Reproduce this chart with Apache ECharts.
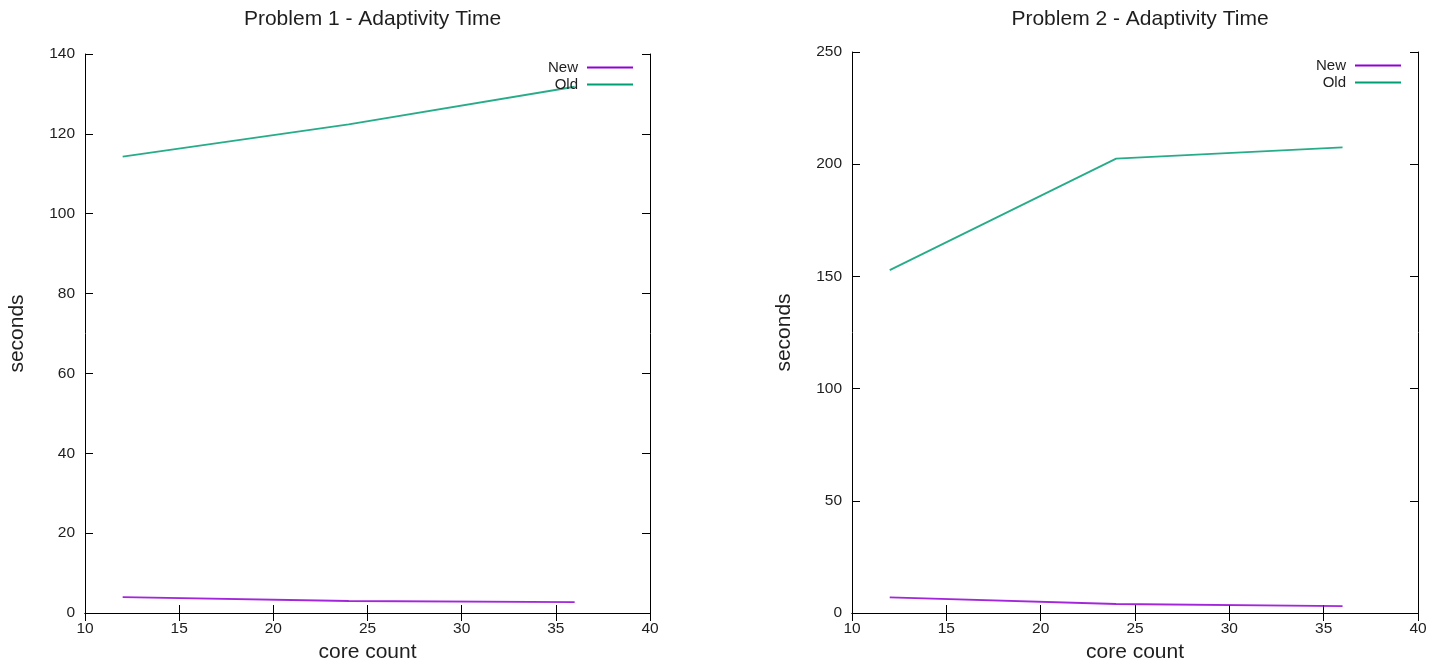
<!DOCTYPE html>
<html>
<head>
<meta charset="utf-8">
<script src="https://cdn.jsdelivr.net/npm/echarts@6/dist/echarts.min.js"></script>
<style>
html,body{margin:0;padding:0;background:#fff;}
#c{width:1443px;height:662px;}
</style>
</head>
<body>
<div id="c"></div>
<script>
const coreCounts = [12, 24, 36];
const p1New = [4.0, 3.0, 2.7];
const p1Old = [114.3, 122.4, 131.8];
const p2New = [7.0, 4.0, 3.1];
const p2Old = [152.8, 202.5, 207.5];
const titles = ['Problem 1 - Adaptivity Time', 'Problem 2 - Adaptivity Time'];
const seriesNames = ['New', 'Old'];
const colors = ['#9400d3', '#009e73'];
const xTicks = {min: 10, max: 40, interval: 5};
const yTicks = [{min: 0, max: 140, interval: 20}, {min: 0, max: 250, interval: 50}];

const FONT = 'Liberation Sans, Arial, sans-serif';
const TXT = '#1e1e1e';
const grids = [
  {left: 85, top: 54, width: 565, height: 559, outerBoundsMode: 'none', containLabel: false},
  {left: 852, top: 52, width: 566, height: 561, outerBoundsMode: 'none', containLabel: false}
];

function pairs(xs, ys) { return xs.map((x, i) => [x, ys[i]]); }

const axisLine = {show: true, lineStyle: {color: '#000', width: 1}};
const tick = {show: true, inside: true, length: 8, lineStyle: {color: '#000', width: 1}};
const label = {color: TXT, fontSize: 15.5, fontFamily: FONT};

const xAxis = [], yAxis = [], series = [], legend = [], title = [];
grids.forEach((g, gi) => {
  title.push({
    text: titles[gi], left: g.left + g.width / 2, top: 4, textAlign: 'center',
    textStyle: {fontSize: 21, fontWeight: 'normal', color: TXT, fontFamily: FONT}
  });
  xAxis.push({
    type: 'value', gridIndex: gi, position: 'bottom', min: xTicks.min, max: xTicks.max, interval: xTicks.interval,
    axisLine, axisTick: tick, splitLine: {show: false},
    axisLabel: Object.assign({margin: 8}, label),
    name: 'core count', nameLocation: 'middle', nameGap: 29,
    nameTextStyle: {fontSize: 21, color: TXT, fontFamily: FONT}
  });
  xAxis.push({
    type: 'value', gridIndex: gi, position: 'top', min: xTicks.min, max: xTicks.max, interval: xTicks.interval,
    axisLine, axisTick: tick, splitLine: {show: false}, axisLabel: {show: false}
  });
  yAxis.push({
    type: 'value', gridIndex: gi, position: 'left', min: yTicks[gi].min, max: yTicks[gi].max, interval: yTicks[gi].interval,
    axisLine, axisTick: tick, splitLine: {show: false},
    axisLabel: Object.assign({margin: 10, padding: [0, 0, 6, 0]}, label),
    name: 'seconds', nameLocation: 'middle', nameGap: 57,
    nameTextStyle: {fontSize: 21, color: TXT, fontFamily: FONT}
  });
  yAxis.push({
    type: 'value', gridIndex: gi, position: 'right', min: yTicks[gi].min, max: yTicks[gi].max, interval: yTicks[gi].interval,
    axisLine, axisTick: tick, splitLine: {show: false}, axisLabel: {show: false}
  });
  const data = gi === 0 ? [p1New, p1Old] : [p2New, p2Old];
  seriesNames.forEach((n, si) => {
    series.push({
      name: n, type: 'line', xAxisIndex: gi * 2, yAxisIndex: gi * 2,
      data: pairs(coreCounts, data[si]), showSymbol: false, symbol: 'none',
      lineStyle: {color: colors[si], width: 1.8, opacity: 0.85}, itemStyle: {color: colors[si]},
      animation: false
    });
  });
  legend.push({
    data: seriesNames, orient: 'vertical', align: 'right', padding: 0,
    right: 1443 - (g.left + g.width) + 17, top: g.top + 6,
    icon: 'rect', itemWidth: 46, itemHeight: 2, itemGap: 2,
    textStyle: {fontSize: 15, color: TXT, fontFamily: FONT, padding: [0, 4, 0, 0]},
    selectedMode: false
  });
});

const chart = echarts.init(document.getElementById('c'), null, {renderer: 'canvas'});
chart.setOption({
  animation: false,
  backgroundColor: '#fff',
  title, grid: grids, xAxis, yAxis, series, legend
});
</script>
</body>
</html>
